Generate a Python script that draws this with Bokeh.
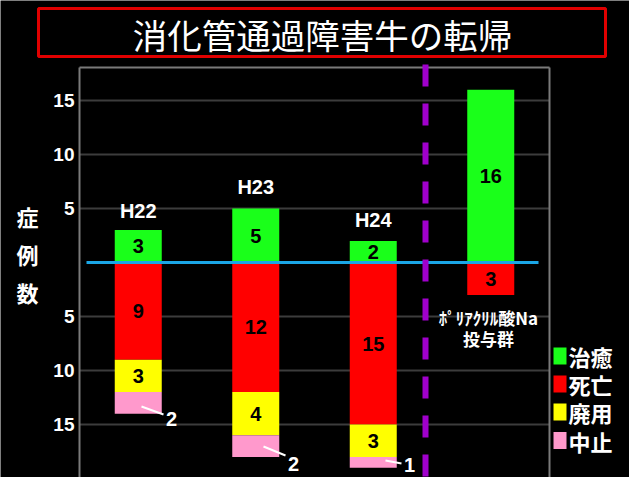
from bokeh.plotting import figure
from bokeh.models import Range1d, Label
from bokeh.embed import file_html
from bokeh.resources import INLINE

# ---- data ----
groups = ["H22", "H23", "H24"]
poly_label = ["ﾎﾟﾘｱｸﾘﾙ酸Na", "投与群"]
cured = [3, 5, 2, 16]        # 治癒
dead = [9, 12, 15, 3]        # 死亡
culled = [3, 4, 3, 0]        # 廃用
stopped = [2, 2, 1, 0]       # 中止
series_names = ["治癒", "死亡", "廃用", "中止"]
series_colors = ["#1aff1a", "#ff0000", "#ffff00", "#ff99cc"]
y_ticks = [-15, -10, -5, 5, 10, 15]
title = "消化管通過障害牛の転帰"
y_title = "症例数"

W, H = 629, 477
# pixel helpers (frame covers the full canvas; 1 x-unit = 117.5 px, 1 y-unit = 10.8 px)
PX0, PY0, SX, SY = 79.0, 262.0, 117.5, 10.8
px2x = lambda px: (px - PX0) / SX
py2y = lambda py: (PY0 - py) / SY

p = figure(width=W, height=H, output_backend="svg", toolbar_location=None,
           x_range=Range1d(px2x(0), px2x(W)), y_range=Range1d(py2y(H), py2y(0)),
           x_axis_location=None, y_axis_location=None,
           min_border=0, min_border_left=0, min_border_right=0,
           min_border_top=0, min_border_bottom=0)
p.background_fill_color = "black"
p.border_fill_color = "black"
p.outline_line_color = None
p.xgrid.visible = False
p.ygrid.visible = False

FRAME_L, FRAME_R, FRAME_T = px2x(79), px2x(549), py2y(67)
BOTTOM = py2y(H + 2)

# grid lines
p.segment(x0=[FRAME_L] * len(y_ticks), y0=y_ticks, x1=[FRAME_R] * len(y_ticks), y1=y_ticks,
          line_color="#3c3c3c", line_width=2)
# frame (left, top, right)
p.segment(x0=[FRAME_L, FRAME_L, FRAME_R], y0=[BOTTOM, FRAME_T, FRAME_T],
          x1=[FRAME_L, FRAME_R, FRAME_R], y1=[FRAME_T, FRAME_T, BOTTOM],
          line_color="#7a7a7a", line_width=2)

def lab(x, y, text, color="black", size="20px", align="center", bold=True,
        font="Liberation Sans"):
    p.add_layout(Label(x=x, y=y, text=text, text_color=color, text_font_size=size,
                       text_align=align, text_baseline="middle", text_font=font,
                       text_font_style="bold" if bold else "normal"))

# tick labels
for t in y_ticks:
    lab(px2x(74), t, str(abs(t)), color="white", size="19px", align="right")

xs = [i + 0.5 for i in range(4)]
bw = 0.4

p.vbar(x=xs, top=cured, bottom=[0] * 4, width=bw, fill_color=series_colors[0], line_color=None)
b0 = [0] * 4
b1 = [-d for d in dead]
b2 = [b1[i] - culled[i] for i in range(4)]
b3 = [b2[i] - stopped[i] for i in range(4)]
p.vbar(x=xs, top=b0, bottom=b1, width=bw, fill_color=series_colors[1], line_color=None)
p.vbar(x=xs, top=b1, bottom=b2, width=bw, fill_color=series_colors[2], line_color=None)
p.vbar(x=xs, top=b2, bottom=b3, width=bw, fill_color=series_colors[3], line_color=None)

# zero line & divider
p.segment(x0=[px2x(86)], y0=[0], x1=[px2x(538)], y1=[0], line_color="#1aa6e6", line_width=3)
p.segment(x0=[px2x(425)], y0=[py2y(64)], x1=[px2x(425)], y1=[BOTTOM],
          line_color="#a000cc", line_width=6, line_dash="22 17")

# value labels
for i in range(4):
    if cured[i]:
        lab(xs[i], cured[i] / 2, str(cured[i]))
    if dead[i]:
        lab(xs[i], -dead[i] / 2, str(dead[i]))
    if culled[i]:
        lab(xs[i], (b1[i] + b2[i]) / 2, str(culled[i]))

# pink segment labels with leader lines
leaders = [((141, 406), (163, 414), (171, 418)),
           ((263, 446), (285, 455), (293, 463)),
           ((385, 460), (401, 463), (409, 464))]
for i, ((ax0, ay0), (ax1, ay1), (tx, ty)) in enumerate(leaders):
    p.segment(x0=[px2x(ax0)], y0=[py2y(ay0)], x1=[px2x(ax1)], y1=[py2y(ay1)],
              line_color="white", line_width=2)
    lab(px2x(tx), py2y(ty), str(stopped[i]), color="white", size="20px")

# group labels
group_label_y = [210, 186, 219]
for i in range(3):
    lab(xs[i], py2y(group_label_y[i]), groups[i], color="white", size="20px")
lab(px2x(488), py2y(317), poly_label[0], color="white", size="17px", font="Noto Sans CJK JP")
lab(px2x(488), py2y(338), poly_label[1], color="white", size="17px", font="Noto Sans CJK JP")

# y axis title (stacked vertical)
for ch, py in zip(y_title, [215, 253, 291]):
    lab(px2x(27), py2y(py), ch, color="white", size="22px", font="Noto Sans CJK JP")

# legend
leg_y = [355.5, 383.5, 411.5, 440]
for name, col, py in zip(series_names, series_colors, leg_y):
    p.rect(x=[px2x(559.5)], y=[py2y(py)], width=13 / SX, height=17 / SY,
           fill_color=col, line_color=None)
    lab(px2x(568), py2y(py), name, color="white", size="22px", align="left",
        font="Noto Sans CJK JP")

# title box
p.rect(x=[px2x(321.5)], y=[py2y(32)], width=567 / SX, height=48 / SY,
       fill_color=None, line_color="#e00000", line_width=3)
lab(px2x(322), py2y(33), title, color="white", size="34.5px", bold=False,
    font="Noto Sans CJK JP")

open("out.html", "w").write(file_html(p, INLINE))
